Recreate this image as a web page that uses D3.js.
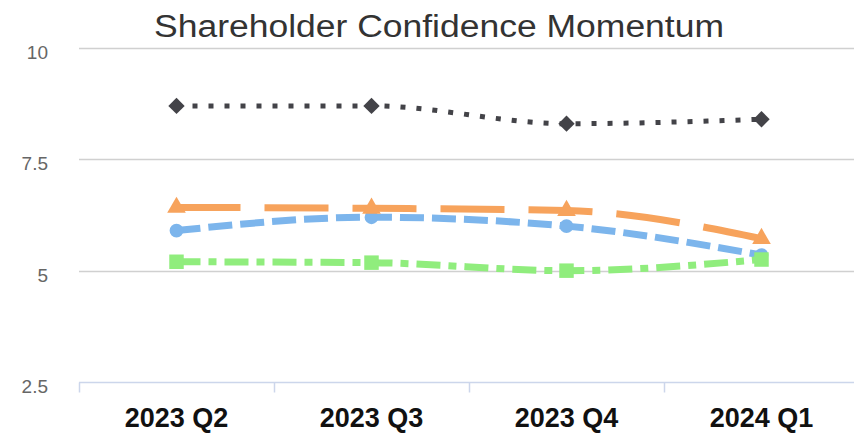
<!DOCTYPE html>
<html>
<head>
<meta charset="utf-8">
<script src="https://cdn.jsdelivr.net/npm/d3@7"></script>
<style>
  body { margin: 0; background: #fff; }
  svg { display: block; font-family: "Liberation Sans", Arial, sans-serif; }
</style>
</head>
<body>
<div id="chart"></div>
<script>
var width = 854,
    height = 433;

// data
var quarters = ["2023 Q2", "2023 Q3", "2023 Q4", "2024 Q1"];
var yTicks = [2.5, 5, 7.5, 10];
var blueVals = [5.9, 6.2, 6.0, 5.35];
var darkVals = [8.7, 8.7, 8.3, 8.4];
var greenVals = [5.2, 5.18, 5.0, 5.25];
var orangeVals = [6.42, 6.4, 6.35, 5.72];

var series = [
    { name: "Series 1", values: blueVals, color: "#7cb5ec", width: 7, dash: "24,8", symbol: d3.symbolCircle, size: 150 },
    { name: "Series 2", values: darkVals, color: "#434348", width: 5, dash: "5,11", symbol: d3.symbolDiamond2 || d3.symbolDiamond, size: 170 },
    { name: "Series 3", values: greenVals, color: "#90ed7d", width: 7, dash: "24,8,8,8", symbol: d3.symbolSquare, size: 210 },
    { name: "Series 4", values: orangeVals, color: "#f7a35c", width: 7, dash: "64,24", symbol: d3.symbolTriangle, size: 150 }
];

var margin = { top: 48, right: 0, bottom: 51, left: 79 };

var svg = d3.select('#chart').append('svg')
    .attr('width', width)
    .attr('height', height);

var x = d3.scaleBand()
    .domain(quarters)
    .range([margin.left, margin.left + 4 * 195]);

var y = d3.scaleLinear()
    .domain([2.5, 10])
    .range([height - margin.bottom, margin.top]);

// title
svg.append('text')
    .attr('x', 439)
    .attr('y', 37)
    .attr('text-anchor', 'middle')
    .attr('fill', '#333333')
    .style('font-size', '31px')
    .attr('textLength', 570)
    .attr('lengthAdjust', 'spacingAndGlyphs')
    .text("Shareholder Confidence Momentum");

// gridlines
svg.append('g')
    .selectAll('line')
    .data(yTicks.filter(function(d) { return d > 2.5; }))
    .enter().append('line')
    .attr('x1', margin.left)
    .attr('x2', width)
    .attr('y1', function(d) { return Math.round(y(d)) + 0.5; })
    .attr('y2', function(d) { return Math.round(y(d)) + 0.5; })
    .attr('stroke', '#d0d0d0')
    .attr('stroke-width', 1.5);

// y labels
svg.append('g')
    .selectAll('text')
    .data(yTicks)
    .enter().append('text')
    .attr('x', 48)
    .attr('y', function(d) { return y(d) + 11; })
    .attr('text-anchor', 'end')
    .attr('fill', '#666666')
    .style('font-size', '19px')
    .text(function(d) { return d; });

// x axis
var xAxis = svg.append('g')
    .attr('transform', 'translate(0,' + (Math.round(y(2.5)) + 0.5) + ')');
xAxis.append('line')
    .attr('x1', margin.left)
    .attr('x2', width)
    .attr('stroke', '#ccd6eb')
    .attr('stroke-width', 1.5);
xAxis.selectAll('.tick')
    .data(quarters)
    .enter().append('line')
    .attr('x1', function(d) { return Math.round(x(d)) + 0.5; })
    .attr('x2', function(d) { return Math.round(x(d)) + 0.5; })
    .attr('y1', 0)
    .attr('y2', 10)
    .attr('stroke', '#ccd6eb')
    .attr('stroke-width', 1.5);
xAxis.selectAll('text')
    .data(quarters)
    .enter().append('text')
    .attr('x', function(d) { return x(d) + x.bandwidth() / 2; })
    .attr('y', 44)
    .attr('text-anchor', 'middle')
    .attr('fill', '#111111')
    .style('font-size', '27px')
    .style('font-weight', 'bold')
    .text(function(d) { return d; });

var line = d3.line()
    .x(function(d, i) { return x(quarters[i]) + x.bandwidth() / 2; })
    .y(function(d) { return y(d); })
    .curve(d3.curveMonotoneX);

series.forEach(function(s) {
    var g = svg.append('g').attr('class', 'series');
    g.append('path')
        .attr('d', line(s.values))
        .attr('fill', 'none')
        .attr('stroke', s.color)
        .attr('stroke-width', s.width)
        .attr('stroke-dasharray', s.dash);
    g.selectAll('path.marker')
        .data(s.values)
        .enter().append('path')
        .attr('class', 'marker')
        .attr('d', d3.symbol().type(s.symbol).size(s.size))
        .attr('transform', function(d, i) {
            return 'translate(' + (x(quarters[i]) + x.bandwidth() / 2) + ',' + y(d) + ')';
        })
        .attr('fill', s.color);
});
</script>
</body>
</html>
